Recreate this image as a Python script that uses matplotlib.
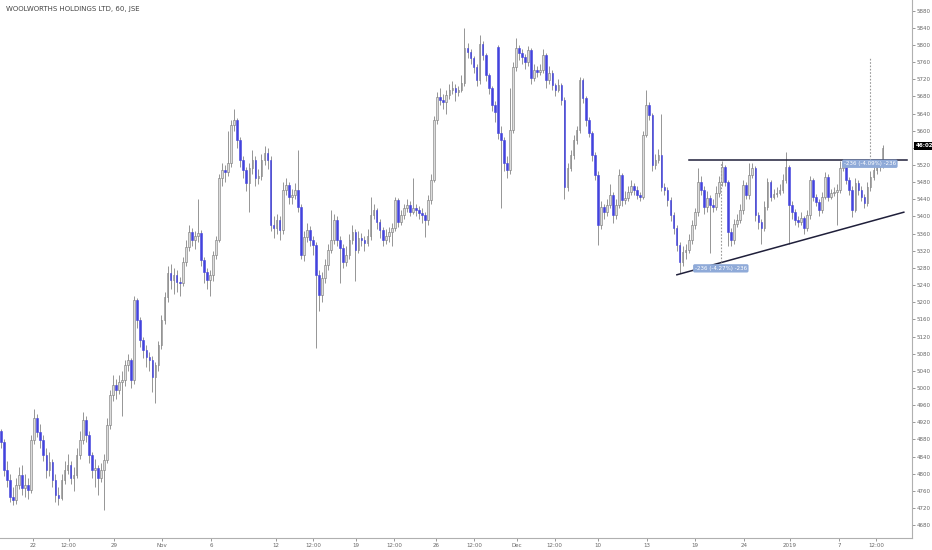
import numpy as np
import matplotlib
matplotlib.use("Agg")
from matplotlib import pyplot as plt
from matplotlib.transforms import blended_transform_factory

# hourly bars (price units)
opens = [4900, 4874, 4808, 4785, 4745, 4738, 4773, 4797, 4766, 4773,
         4762, 4878, 4930, 4897, 4878, 4843, 4808, 4827, 4785, 4750,
         4743, 4785, 4808, 4820, 4790, 4797, 4843, 4878, 4925, 4890,
         4843, 4808, 4813, 4790, 4808, 4832,
         4913, 4984, 5007, 4995, 5014, 5018, 5053, 5065, 5018, 5205,
         5158, 5112, 5088, 5072, 5065, 5025, 5053, 5100, 5158, 5212,
         5268, 5252, 5263, 5247, 5245, 5294, 5329, 5364, 5345, 5354,
         5361, 5298, 5270, 5252, 5263, 5310, 5345, 5490, 5508, 5504,
         5525, 5613, 5625, 5578, 5532, 5508, 5478, 5513, 5532, 5490,
         5494, 5532, 5548, 5532, 5380, 5373, 5392, 5368, 5462, 5473,
         5445, 5450, 5462, 5422, 5310, 5352, 5368, 5345, 5333, 5263,
         5217, 5256, 5287, 5322, 5345, 5392, 5345, 5326, 5294, 5310,
         5345, 5364, 5322, 5350, 5345, 5338, 5354, 5403, 5415, 5387,
         5368, 5345, 5354, 5364, 5373, 5438, 5387, 5403, 5420, 5427,
         5410, 5420, 5415, 5408, 5403, 5392, 5438,
         5485, 5625, 5679, 5672, 5667, 5683, 5695, 5700, 5690, 5695,
         5711, 5793, 5784, 5770, 5749, 5718, 5802, 5777, 5730, 5700,
         5660, 5795, 5595, 5578, 5525, 5508, 5602, 5749, 5793, 5781,
         5772, 5760, 5788, 5723, 5742, 5737, 5742, 5777, 5718, 5735,
         5707, 5695, 5707, 5672, 5469, 5513, 5543, 5578, 5602, 5718,
         5676, 5625, 5595, 5543, 5497, 5380, 5422, 5410, 5427, 5450,
         5403, 5427, 5497, 5438, 5443, 5457, 5471, 5462, 5450, 5445,
         5590, 5660, 5637, 5520, 5532, 5543, 5469, 5462, 5438, 5403,
         5373, 5333, 5294, 5317, 5322, 5345, 5380, 5410, 5480, 5462,
         5422, 5443, 5427, 5422, 5455, 5480, 5515, 5480, 5364, 5345,
         5382, 5392, 5415, 5473, 5450, 5497, 5513, 5403, 5387, 5373,
         5422, 5480, 5445, 5452, 5455, 5462, 5485, 5515, 5427, 5410,
         5392, 5387, 5396, 5373, 5403, 5485, 5445, 5434, 5415, 5445,
         5492, 5445, 5455, 5457, 5462, 5513, 5525, 5485, 5462, 5415,
         5478, 5462, 5445, 5431, 5469, 5492, 5508, 5515, 5520]

closes = [4874, 4808, 4785, 4745, 4738, 4773, 4797, 4766, 4773, 4762,
          4878, 4930, 4897, 4878, 4843, 4808, 4827, 4785, 4750, 4743,
          4785, 4808, 4820, 4790, 4797, 4843, 4878, 4925, 4890, 4843,
          4808, 4813, 4790, 4808, 4832, 4913,
          4984, 5007, 4995, 5014, 5018, 5053, 5065, 5018, 5205, 5158,
          5112, 5088, 5072, 5065, 5025, 5053, 5100, 5158, 5212, 5268,
          5252, 5263, 5247, 5245, 5294, 5329, 5364, 5345, 5354, 5361,
          5298, 5270, 5252, 5263, 5310, 5345, 5490, 5508, 5504, 5525,
          5613, 5625, 5578, 5532, 5508, 5478, 5513, 5532, 5490, 5494,
          5532, 5548, 5532, 5380, 5373, 5392, 5368, 5462, 5473, 5445,
          5450, 5462, 5422, 5310, 5352, 5368, 5345, 5333, 5263, 5217,
          5256, 5287, 5322, 5345, 5392, 5345, 5326, 5294, 5310, 5345,
          5364, 5322, 5350, 5345, 5338, 5354, 5403, 5415, 5387, 5368,
          5345, 5354, 5364, 5373, 5438, 5387, 5403, 5420, 5427, 5410,
          5420, 5415, 5408, 5403, 5392, 5438, 5485,
          5625, 5679, 5672, 5667, 5683, 5695, 5700, 5690, 5695, 5711,
          5793, 5784, 5770, 5749, 5718, 5802, 5777, 5730, 5700, 5660,
          5644, 5595, 5578, 5525, 5508, 5602, 5749, 5793, 5781, 5772,
          5760, 5788, 5723, 5742, 5737, 5742, 5777, 5718, 5735, 5707,
          5695, 5707, 5672, 5469, 5513, 5543, 5578, 5602, 5718, 5676,
          5625, 5595, 5543, 5497, 5380, 5422, 5410, 5427, 5450, 5403,
          5427, 5497, 5438, 5443, 5457, 5471, 5462, 5450, 5445, 5590,
          5660, 5637, 5520, 5532, 5543, 5469, 5462, 5438, 5403, 5373,
          5333, 5294, 5317, 5322, 5345, 5380, 5410, 5480, 5462, 5422,
          5443, 5427, 5422, 5455, 5480, 5515, 5480, 5364, 5345, 5382,
          5392, 5415, 5473, 5450, 5497, 5513, 5403, 5387, 5373, 5422,
          5480, 5445, 5452, 5455, 5462, 5485, 5515, 5427, 5410, 5392,
          5387, 5396, 5373, 5403, 5485, 5445, 5434, 5415, 5445, 5492,
          5445, 5455, 5457, 5462, 5513, 5525, 5485, 5462, 5415, 5478,
          5462, 5445, 5431, 5469, 5492, 5508, 5515, 5520, 5560]

highs = [4905, 4880, 4830, 4800, 4770, 4790, 4815, 4820, 4800, 4790,
         4890, 4950, 4940, 4915, 4890, 4860, 4850, 4835, 4800, 4770,
         4800, 4830, 4845, 4830, 4815, 4860, 4900, 4945, 4935, 4900,
         4850, 4835, 4820, 4825, 4845, 4930,
         4995, 5030, 5020, 5030, 5040, 5065, 5080, 5070, 5215, 5210,
         5165, 5120, 5100, 5085, 5075, 5060, 5110, 5170, 5225, 5285,
         5290, 5280, 5275, 5260, 5305, 5345, 5380, 5372, 5365, 5440,
         5368, 5305, 5280, 5275, 5320, 5355, 5500, 5525, 5520, 5600,
         5625, 5650, 5630, 5585, 5540, 5515, 5525, 5555, 5540, 5510,
         5545, 5565, 5560, 5540, 5400, 5405, 5400, 5480, 5490, 5480,
         5465, 5478, 5555, 5430, 5365, 5385, 5378, 5355, 5340, 5275,
         5270, 5300, 5335, 5415, 5405, 5400, 5355, 5335, 5330, 5360,
         5380, 5370, 5365, 5362, 5355, 5370, 5445, 5430, 5420, 5395,
         5375, 5370, 5375, 5385, 5445, 5442, 5415, 5430, 5440, 5435,
         5490, 5430, 5425, 5420, 5410, 5450, 5500,
         5635, 5690, 5700, 5685, 5695, 5710, 5715, 5708, 5705, 5730,
         5840, 5805, 5790, 5775, 5755, 5823, 5810, 5782, 5735, 5705,
         5670, 5800, 5610, 5585, 5540, 5700, 5760, 5816, 5800, 5790,
         5778, 5798, 5793, 5755, 5750, 5755, 5790, 5782, 5750, 5742,
         5712, 5720, 5712, 5678, 5525, 5555, 5590, 5612, 5725, 5722,
         5682, 5632, 5600, 5550, 5505, 5435, 5430, 5440, 5475, 5458,
         5440, 5510, 5502, 5460, 5470, 5485, 5478, 5470, 5458, 5600,
         5695, 5668, 5642, 5545, 5558, 5640, 5478, 5468, 5445, 5410,
         5380, 5340, 5330, 5335, 5360, 5392, 5420, 5513, 5495, 5470,
         5460, 5450, 5440, 5470, 5495, 5529, 5520, 5485, 5372, 5395,
         5405, 5428, 5485, 5480, 5525, 5525, 5518, 5410, 5395, 5435,
         5490, 5485, 5465, 5468, 5475, 5498, 5550, 5520, 5435, 5418,
         5400, 5410, 5402, 5415, 5495, 5490, 5452, 5440, 5458, 5504,
         5498, 5465, 5468, 5475, 5530, 5532, 5530, 5492, 5470, 5490,
         5485, 5470, 5452, 5480, 5505, 5518, 5525, 5530, 5567]

lows = [4860, 4795, 4770, 4735, 4727, 4730, 4765, 4750, 4745, 4740,
        4755, 4870, 4885, 4860, 4830, 4790, 4795, 4770, 4735, 4728,
        4738, 4775, 4800, 4775, 4760, 4790, 4835, 4870, 4875, 4825,
        4790, 4770, 4750, 4780, 4715, 4825,
        4905, 4970, 4975, 4985, 4935, 5005, 5040, 5000, 5010, 5140,
        5095, 5070, 5050, 5040, 4990, 4965, 5040, 5090, 5150, 5200,
        5230, 5220, 5225, 5215, 5238, 5285, 5320, 5330, 5325, 5340,
        5285, 5245, 5230, 5215, 5250, 5300, 5340, 5470, 5480, 5495,
        5515, 5600, 5560, 5515, 5490, 5460, 5410, 5500, 5470, 5475,
        5485, 5520, 5510, 5365, 5350, 5360, 5345, 5360, 5450, 5430,
        5430, 5440, 5410, 5300, 5295, 5340, 5330, 5310, 5093, 5180,
        5200, 5245, 5275, 5315, 5335, 5330, 5245, 5280, 5285, 5300,
        5335, 5250, 5315, 5330, 5320, 5330, 5345, 5395, 5370, 5350,
        5330, 5335, 5340, 5330, 5365, 5375, 5380, 5395, 5410, 5400,
        5405, 5400, 5395, 5385, 5352, 5380, 5430,
        5480, 5615, 5660, 5650, 5640, 5675, 5685, 5670, 5680, 5690,
        5705, 5770, 5755, 5735, 5705, 5710, 5765, 5715, 5685, 5645,
        5620, 5580, 5420, 5505, 5490, 5500, 5595, 5740, 5765, 5755,
        5745, 5750, 5710, 5715, 5725, 5730, 5735, 5700, 5710, 5695,
        5680, 5690, 5660, 5440, 5460, 5505, 5535, 5570, 5595, 5665,
        5612, 5585, 5530, 5485, 5333, 5370, 5395, 5400, 5420, 5385,
        5395, 5420, 5425, 5430, 5435, 5450, 5450, 5440, 5435, 5440,
        5585, 5625, 5505, 5510, 5525, 5460, 5450, 5425, 5390, 5360,
        5320, 5268, 5285, 5300, 5315, 5335, 5370, 5400, 5450, 5405,
        5410, 5315, 5410, 5415, 5445, 5470, 5470, 5330, 5330, 5335,
        5375, 5385, 5405, 5440, 5440, 5490, 5390, 5370, 5335, 5365,
        5415, 5435, 5440, 5445, 5450, 5455, 5478, 5335, 5395, 5380,
        5375, 5380, 5360, 5365, 5395, 5435, 5425, 5402, 5408, 5440,
        5435, 5440, 5448, 5380, 5455, 5505, 5475, 5450, 5399, 5410,
        5450, 5435, 5420, 5425, 5460, 5485, 5500, 5505, 5512]

# date labels sit at these bar positions
tick_pos = [10.6, 22.4, 37.3, 53.1, 69.3, 90.8, 103.0, 117.2, 129.7, 143.6,
            156.1, 170.3, 182.8, 197.0, 213.2, 229.0, 245.2, 260.4, 276.6, 288.8]
tick_labels = ["22", "12:00", "29", "Nov", "6", "12", "12:00", "19", "12:00", "26",
               "12:00", "Dec", "12:00", "10", "13", "19", "24", "2019", "7", "12:00"]
price_ticks = list(range(4680, 5881, 40))

# drawn lines: flat top of the triangle and the rising support
resist_x = [227, 299]
resist_y = [5531, 5531]
support_x = [223.1, 298]
support_y = [5264, 5410]

# price range measurements (dotted line + label)
meas_x = [237.6, 286.8]
meas_top = [5527, 5772]
meas_bot = [5294, 5532]
meas_lbl_y = [5279, 5523]
meas_text = ["-236 (-4.27%) -236", "-236 (-4.09%) -236"]

last_price = 5565

o = np.array(opens, float)
c = np.array(closes, float)
h = np.array(highs, float)
l = np.array(lows, float)
x = np.arange(len(c))
up = c >= o

fig = plt.figure(figsize=(9.32, 5.5), dpi=100)
ax = fig.add_axes([0, 12 / 550, 912 / 932, 538 / 550])

ax.vlines(x, l, h, color="#858585", linewidth=0.6, zorder=2)
body_lo = np.minimum(o, c)
body_h = np.maximum(np.abs(c - o), 2)
ax.bar(x[up], body_h[up], bottom=body_lo[up], width=0.55,
       color="#dcdcdc", edgecolor="#777777", linewidth=0.4, zorder=3)
ax.bar(x[~up], body_h[~up], bottom=body_lo[~up], width=0.55,
       color="#4343dd", edgecolor="#4343dd", linewidth=0.4, zorder=3)

ax.plot(resist_x, resist_y, color="#1f1f3a", linewidth=1.1, zorder=4)
ax.plot(support_x, support_y, color="#1f1f3a", linewidth=1.1, zorder=4)

for mx, mt, mb, my, txt in zip(meas_x, meas_top, meas_bot, meas_lbl_y, meas_text):
    ax.vlines(mx, mb, mt, color="#9a9a9a", linestyle=(0, (1.5, 1.5)), linewidth=0.8, zorder=4)
    ax.text(mx, my, txt, fontsize=4, color="white", ha="center", va="center", zorder=6,
            bbox=dict(boxstyle="round,pad=0.3", fc="#8faad8", ec="none"))

ax.set_xlim(-0.3, 300.7)
ax.set_ylim(4650, 5905)

ax.yaxis.tick_right()
ax.set_yticks(price_ticks)
ax.set_yticklabels(["" if p == 5560 else str(p) for p in price_ticks])
ax.set_xticks(tick_pos)
ax.set_xticklabels(tick_labels)
ax.tick_params(axis="both", labelsize=4, colors="#888888", length=2, width=0.6, pad=1.5)
ax.tick_params(axis="x", labelcolor="#666666")
ax.tick_params(axis="y", labelcolor="#666666")

for s in ["top", "left"]:
    ax.spines[s].set_visible(False)
for s in ["right", "bottom"]:
    ax.spines[s].set_color("#b0b0b0")
    ax.spines[s].set_linewidth(0.8)

tr = blended_transform_factory(ax.transAxes, ax.transData)
ax.text(1.004, last_price, "46:02", transform=tr, fontsize=4, color="white",
        fontweight="bold", ha="left", va="center", zorder=7, clip_on=False,
        bbox=dict(boxstyle="square,pad=0.25", fc="black", ec="none"))

fig.text(0.006, 0.983, "WOOLWORTHS HOLDINGS LTD, 60, JSE", fontsize=5, color="#444444",
         ha="left", va="center")

fig.savefig("out.png", dpi=100, facecolor="white")
